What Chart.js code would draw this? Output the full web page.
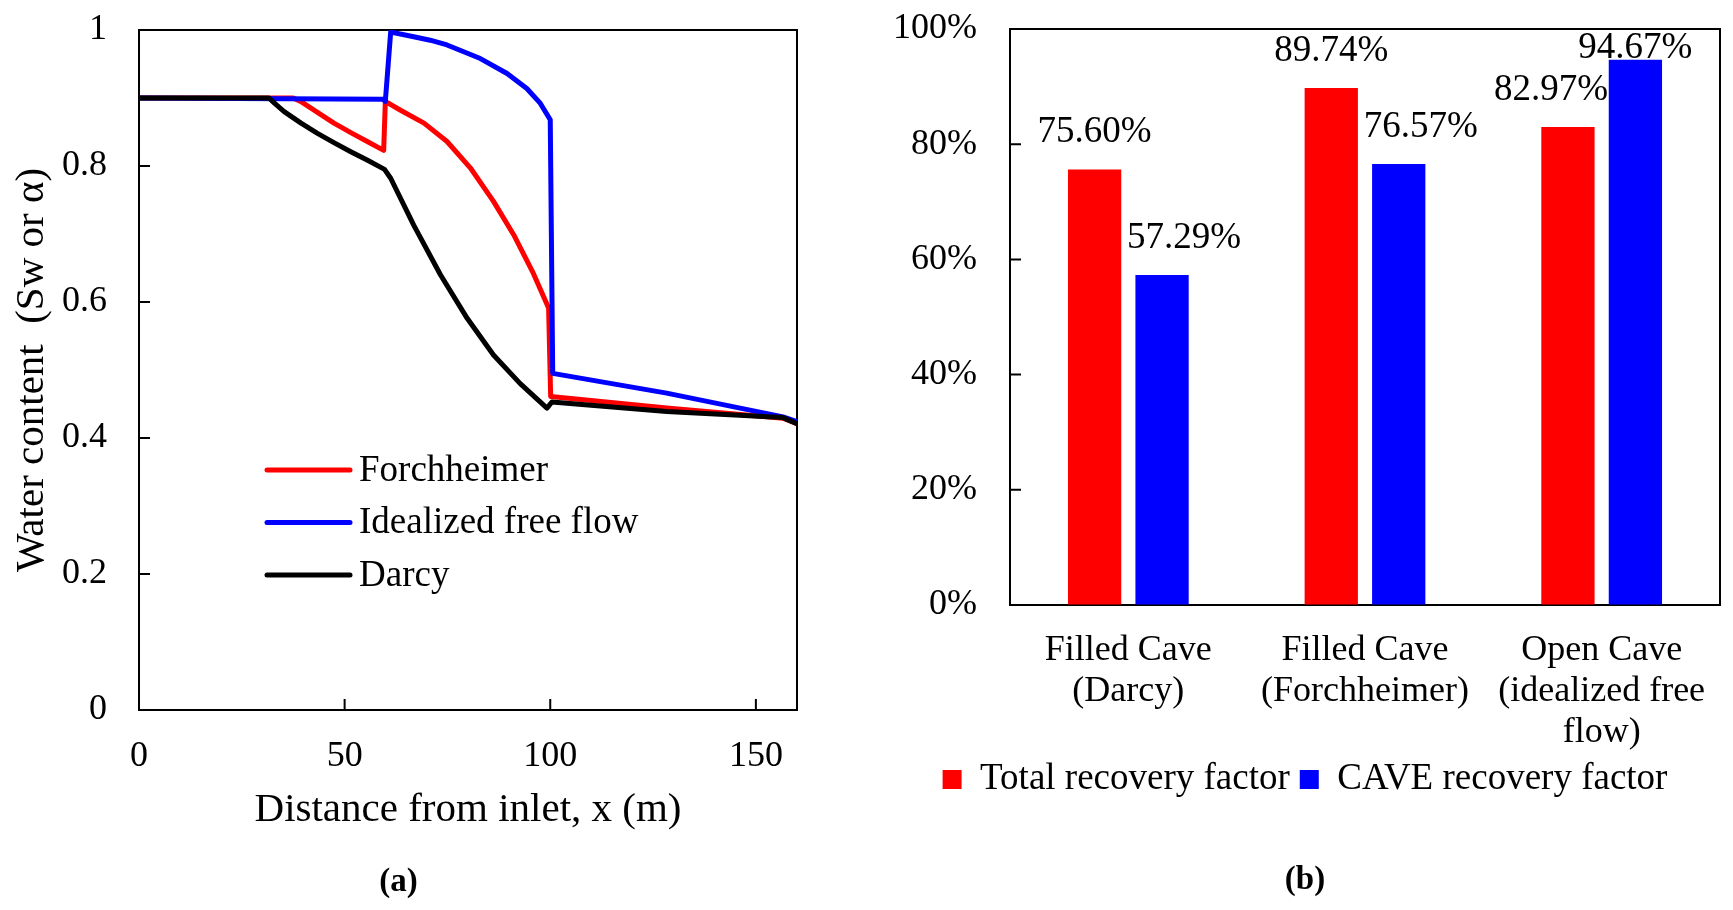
<!DOCTYPE html>
<html>
<head>
<meta charset="utf-8">
<script src="https://cdn.jsdelivr.net/npm/chart.js"></script>
<style>
  html, body { margin: 0; padding: 0; background: #fff; }
  #wrap { position: relative; width: 1733px; height: 910px; }
  #left { position: absolute; left: 0; top: 0; }
  #right { position: absolute; left: 866px; top: 0; }
</style>
</head>
<body>
<div id="wrap">
  <canvas id="left" width="866" height="910"></canvas>
  <canvas id="right" width="867" height="910"></canvas>
</div>
<script>
// (a) water content profiles
const forchX = [0, 37.5, 39.3, 43.4, 47.4, 51.5, 55.5, 59.5, 59.9, 63.6, 69.3, 74.9, 80.6, 86.2, 91.1, 95.9, 99.6, 100.1, 128.3, 156.6, 160];
const forchY = [0.9, 0.9, 0.895, 0.879, 0.863, 0.849, 0.836, 0.823, 0.895, 0.882, 0.863, 0.836, 0.797, 0.748, 0.699, 0.642, 0.591, 0.461, 0.444, 0.429, 0.421];

const freeX = [0, 59.3, 59.9, 61.2, 66.8, 70.8, 74.9, 83.0, 89.5, 94.3, 97.6, 100.0, 100.6, 128.3, 156.6, 160];
const freeY = [0.9, 0.898, 0.895, 0.997, 0.990, 0.985, 0.978, 0.958, 0.936, 0.914, 0.892, 0.868, 0.495, 0.466, 0.431, 0.424];

const darcyX = [0, 31.6, 33.0, 35.3, 39.4, 43.4, 47.5, 51.5, 55.7, 59.7, 61.2, 66.8, 73.3, 79.8, 86.2, 92.7, 99.2, 100.4, 128.3, 156.6, 160];
const darcyY = [0.9, 0.9, 0.892, 0.880, 0.863, 0.848, 0.834, 0.821, 0.808, 0.795, 0.782, 0.713, 0.640, 0.576, 0.522, 0.480, 0.444, 0.453, 0.439, 0.430, 0.421];

const profileNames = ['Forchheimer', 'Idealized free flow', 'Darcy'];

// (b) recovery factors (%)
const caseLabels = [['Filled Cave', '(Darcy)'], ['Filled Cave', '(Forchheimer)'], ['Open Cave', '(idealized free', 'flow)']];
const totalRF = [75.60, 89.74, 82.97];
const caveRF = [57.29, 76.57, 94.67];

const SERIF = '"Times New Roman", "Liberation Serif", serif';
Chart.defaults.color = '#000';
Chart.defaults.font.family = SERIF;

const pts = (xs, ys) => xs.map((x, i) => ({ x: x, y: ys[i] }));

// invisible grid: only used to reserve the gap between axis and tick labels
const hiddenGrid = len => ({ display: true, drawOnChartArea: false, drawTicks: true, tickLength: len, color: 'rgba(0,0,0,0)' });

// box around the plot + inward tick marks
const frameTicks = {
  id: 'frameTicks',
  beforeDatasetsDraw(chart, args, opts) {
    const { ctx, chartArea: a } = chart;
    ctx.save();
    ctx.strokeStyle = '#000';
    ctx.lineWidth = 2;
    ctx.strokeRect(a.left, a.top, a.width, a.height);
    ctx.beginPath();
    if (opts.x) {
      const sx = chart.scales.x;
      sx.ticks.forEach(t => {
        const px = sx.getPixelForValue(t.value);
        ctx.moveTo(px, a.bottom); ctx.lineTo(px, a.bottom - opts.len);
      });
    }
    if (opts.y) {
      const sy = chart.scales.y;
      sy.ticks.forEach(t => {
        const py = sy.getPixelForValue(t.value);
        ctx.moveTo(a.left, py); ctx.lineTo(a.left + opts.len, py);
      });
    }
    ctx.stroke();
    ctx.restore();
  }
};

// legend drawn inside the plot for (a)
const insideLegend = {
  id: 'insideLegend',
  afterDraw(chart, args, opts) {
    const ctx = chart.ctx;
    ctx.save();
    ctx.font = '37px ' + SERIF;
    ctx.textBaseline = 'middle';
    ctx.textAlign = 'left';
    chart.data.datasets.forEach((ds, i) => {
      const y = opts.y + i * opts.gap;
      ctx.strokeStyle = ds.borderColor;
      ctx.lineWidth = 5;
      ctx.lineCap = 'round';
      ctx.beginPath();
      ctx.moveTo(opts.x, y); ctx.lineTo(opts.x + opts.len, y);
      ctx.stroke();
      ctx.fillStyle = '#000';
      ctx.fillText(ds.label, opts.x + opts.len + 9, y + 1);
    });
    ctx.restore();
  }
};

// value labels above the bars for (b)
const labelNudge = {
  '1-0': { dx: 22, dy: 0 },
  '1-1': { dx: 22, dy: 0 },
  '0-2': { dx: -17, dy: 0 },
  '1-2': { dx: 0, dy: 26 }
};
const barValues = {
  id: 'barValues',
  afterDatasetsDraw(chart) {
    const ctx = chart.ctx;
    ctx.save();
    ctx.font = '37px ' + SERIF;
    ctx.fillStyle = '#000';
    ctx.textAlign = 'center';
    ctx.textBaseline = 'middle';
    chart.data.datasets.forEach((ds, di) => {
      chart.getDatasetMeta(di).data.forEach((el, i) => {
        const n = labelNudge[di + '-' + i] || { dx: 0, dy: 0 };
        ctx.fillText(ds.data[i].toFixed(2) + '%', el.x + n.dx, el.y - 37 + n.dy);
      });
    });
    ctx.restore();
  }
};

new Chart(document.getElementById('left'), {
  type: 'line',
  data: {
    datasets: [
      { label: profileNames[0], data: pts(forchX, forchY), borderColor: '#ff0000', order: 3 },
      { label: profileNames[1], data: pts(freeX, freeY), borderColor: '#0000ff', order: 2 },
      { label: profileNames[2], data: pts(darcyX, darcyY), borderColor: '#000000', order: 1 }
    ]
  },
  options: {
    responsive: false,
    devicePixelRatio: 1,
    animation: false,
    elements: {
      point: { radius: 0 },
      line: { borderWidth: 5, tension: 0, borderCapStyle: 'round', borderJoinStyle: 'round', fill: false }
    },
    layout: { padding: { left: 0, top: 30, right: 69, bottom: 8.2 } },
    scales: {
      x: {
        type: 'linear', min: 0, max: 160,
        grid: hiddenGrid(22),
        border: { display: false },
        ticks: { stepSize: 50, includeBounds: false, padding: 3.4, maxRotation: 0, font: { size: 36 } },
        title: { display: true, text: 'Distance from inlet, x (m)', font: { size: 41 }, padding: { top: 0, bottom: 15.4 } },
        afterFit: s => { s.height = 140; }
      },
      y: {
        min: 0, max: 1,
        grid: hiddenGrid(29),
        border: { display: false },
        ticks: { stepSize: 0.2, padding: 3, font: { size: 36 }, callback: v => String(Math.round(v * 10) / 10) },
        title: { display: true, text: 'Water content  (Sw or α)', font: { size: 41 }, padding: { top: 7.4, bottom: 0 } },
        afterFit: s => { s.width = 139; }
      }
    },
    plugins: {
      legend: { display: false },
      tooltip: { enabled: false },
      title: { display: true, position: 'bottom', text: '(a)', font: { size: 33, weight: 'bold' }, padding: { top: 12.2, bottom: 0 } },
      frameTicks: { x: true, y: true, len: 11 },
      insideLegend: { x: 267, y: 470, gap: 52.5, len: 83 }
    }
  },
  plugins: [frameTicks, insideLegend]
});

new Chart(document.getElementById('right'), {
  type: 'bar',
  data: {
    labels: caseLabels,
    datasets: [
      { label: 'Total recovery factor', data: totalRF, backgroundColor: '#ff0000', borderWidth: 0 },
      { label: 'CAVE recovery factor', data: caveRF, backgroundColor: '#0000ff', borderWidth: 0 }
    ]
  },
  options: {
    responsive: false,
    devicePixelRatio: 1,
    animation: false,
    categoryPercentage: 0.57,
    barPercentage: 0.79,
    layout: { padding: { left: 24, top: 29, right: 13, bottom: 10.2 } },
    scales: {
      x: {
        grid: hiddenGrid(21),
        border: { display: false },
        ticks: { padding: 3.5, maxRotation: 0, autoSkip: false, font: { size: 36, lineHeight: 1.15 } },
        afterFit: s => { s.height = 146; }
      },
      y: {
        min: 0, max: 100,
        grid: hiddenGrid(30),
        border: { display: false },
        ticks: { stepSize: 20, padding: 3, font: { size: 36 }, callback: v => v + '%' },
        afterFit: s => { s.width = 120; }
      }
    },
    plugins: {
      legend: {
        position: 'bottom',
        labels: { boxWidth: 19, boxHeight: 19, padding: 10, font: { size: 37 } }
      },
      tooltip: { enabled: false },
      title: { display: true, position: 'bottom', text: '(b)', font: { size: 33, weight: 'bold' }, padding: { top: 52.2, bottom: 0 } },
      frameTicks: { x: false, y: true, len: 11 }
    }
  },
  plugins: [frameTicks, barValues]
});
</script>
</body>
</html>
